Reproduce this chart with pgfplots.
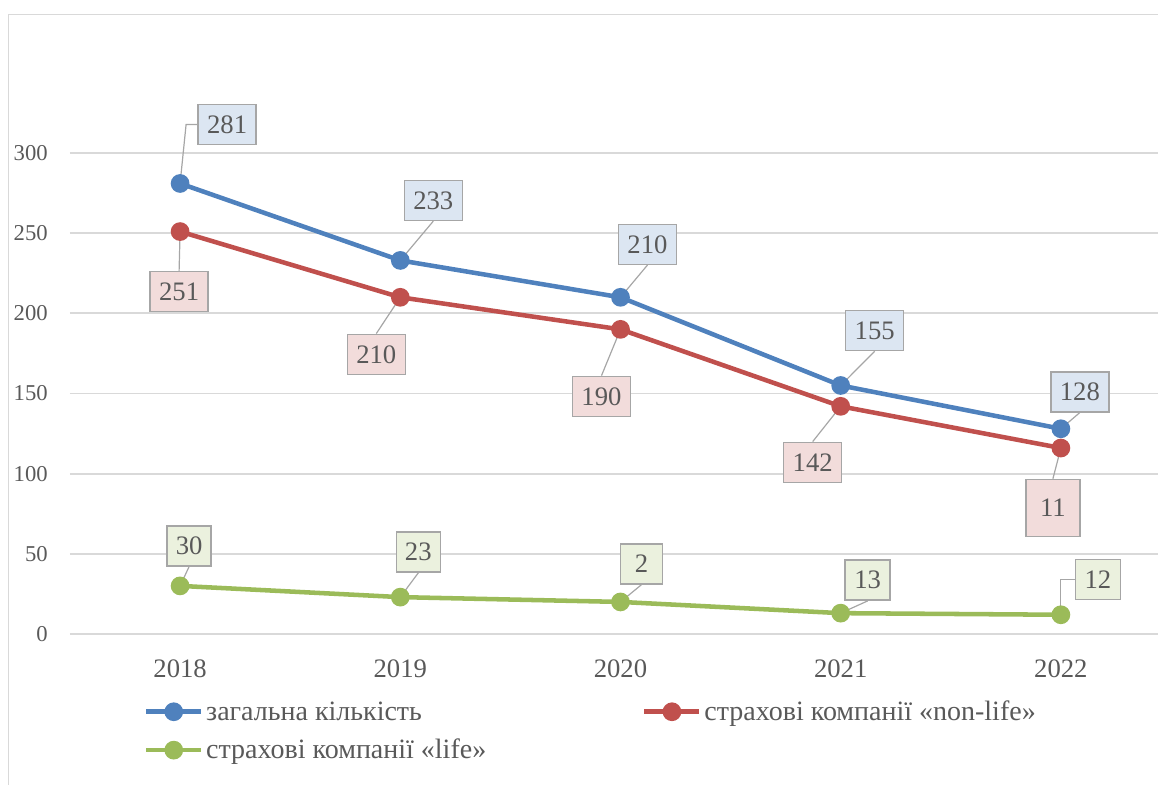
\documentclass[border=0pt]{standalone}
\usepackage{fontspec}
\setmainfont{Liberation Serif}
\usepackage{pgfplots}
\pgfplotsset{compat=1.18}
\definecolor{cblue}{HTML}{4F81BD}
\definecolor{cred}{HTML}{C0504D}
\definecolor{cgreen}{HTML}{9BBB59}
\definecolor{fblue}{HTML}{DCE6F2}
\definecolor{fred}{HTML}{F2DCDB}
\definecolor{fgreen}{HTML}{EBF1DE}
\definecolor{bord}{HTML}{A6A6A6}
\definecolor{txt}{HTML}{595959}
\definecolor{gridc}{HTML}{D9D9D9}
\tikzset{lblbox/.style={draw=bord, line width=1.1pt, text=txt, inner sep=0pt,
  font=\fontsize{20}{24}\selectfont, minimum height=30pt, anchor=center}}
% x, y, dx(px), dy(px), text, fill, name, min width(px)
\newcommand\lbl[8]{%
  \node[lblbox, fill=#6, minimum width={#8*0.75pt}, xshift={#3*0.75pt}, yshift={#4*0.75pt}] (#7) at (axis cs:#1,#2) {#5};}
\begin{document}
\begin{tikzpicture}
\useasboundingbox ({-70*0.75pt},{-151*0.75pt}) rectangle ({1088*0.75pt},{634*0.75pt});
\draw[gridc, line width=1.3pt] ({-61.5*0.75pt},{-170*0.75pt}) -- ({-61.5*0.75pt},{619.5*0.75pt}) -- ({1110*0.75pt},{619.5*0.75pt});
\begin{axis}[
  at={(0,0)}, anchor=south west, scale only axis,
  width=825.75pt, height=360.75pt,
  xmin=-0.5, xmax=4.5, ymin=0, ymax=300,
  clip=false,
  axis line style={draw=none},
  major tick length=0pt,
  ymajorgrids, grid style={gridc, line width=1.3pt},
  ytick={0,50,...,300},
  xtick={0,1,2,3,4},
  xticklabels={2018,2019,2020,2021,2022},
  /pgf/number format/assume math mode=true,
  yticklabel style={font=\fontsize{17}{20}\selectfont, text=txt, anchor=east, inner sep=0pt, xshift=-16.5pt},
  xticklabel style={font=\fontsize{20}{24}\selectfont, text=txt, anchor=north, inner sep=0pt, yshift=-19.5pt},
  legend style={at={(0.067,-0.133)}, anchor=north west, draw=none, fill=none, inner sep=0pt,
    font=\fontsize{21}{24}\selectfont, text=txt, legend columns=2,
    /tikz/every even column/.append style={column sep=115pt},
    row sep=8.5pt},
  legend cell align=left,
  legend image code/.code={\draw[mark repeat=2,mark phase=2,#1] plot coordinates {(0pt,0pt) (20.6pt,0pt) (41.25pt,0pt)};},
  every axis plot/.append style={line width=3.4pt, mark=*, mark size=5.3pt, mark options={solid}},
]
\addplot[cblue, mark options={fill=cblue, draw=cblue}] coordinates {(0,281) (1,233) (2,210) (3,155) (4,128)};
\addlegendentry{загальна кількість}
\addplot[cred, mark options={fill=cred, draw=cred}] coordinates {(0,251) (1,210) (2,190) (3,142) (4,116)};
\addlegendentry{страхові компанії «non-life»}
\addplot[cgreen, mark options={fill=cgreen, draw=cgreen}] coordinates {(0,30) (1,23) (2,20) (3,13) (4,12)};
\addlegendentry{страхові компанії «life»}

% blue labels
\lbl{0}{281}{47}{59}{281}{fblue}{b0}{58}
\lbl{1}{233}{33}{60}{233}{fblue}{b1}{58}
\lbl{2}{210}{27}{53}{210}{fblue}{b2}{58}
\lbl{3}{155}{34}{55}{155}{fblue}{b3}{58}
\lbl{4}{128}{19}{37}{128}{fblue}{b4}{58}
% red labels
\lbl{0}{251}{-1}{-60}{251}{fred}{r0}{58}
\node[lblbox, fill=fred, minimum width={54*0.75pt}, minimum height={57*0.75pt}, xshift={-8*0.75pt}, yshift={-60*0.75pt}] (r4) at (axis cs:4,116) {11};
\lbl{1}{210}{-24}{-57}{210}{fred}{r1}{58}
\lbl{2}{190}{-19}{-67}{190}{fred}{r2}{58}
\lbl{3}{142}{-28}{-56}{142}{fred}{r3}{58}
% green labels
\lbl{0}{30}{9}{40}{30}{fgreen}{g0}{44}
\lbl{1}{23}{18}{45}{23}{fgreen}{g1}{44}
\lbl{2}{20}{21}{38}{2}{fgreen}{g2}{42}
\lbl{3}{13}{27}{33}{13}{fgreen}{g3}{45}
\lbl{4}{12}{37}{35}{12}{fgreen}{g4}{45}

% leader lines
\draw[bord, line width=0.9pt] (axis cs:0,281) -- ([xshift={6*0.75pt}]b0.west -| {axis cs:0,281}) -- (b0.west);
\draw[bord, line width=0.9pt] (axis cs:1,233) -- (b1.south);
\draw[bord, line width=0.9pt] (axis cs:2,210) -- (b2.south);
\draw[bord, line width=0.9pt] (axis cs:3,155) -- (b3.south);
\draw[bord, line width=0.9pt] (axis cs:4,128) -- (b4.south);
\draw[bord, line width=0.9pt] (axis cs:0,251) -- (r0.north);
\draw[bord, line width=0.9pt] (axis cs:1,210) -- (r1.north);
\draw[bord, line width=0.9pt] (axis cs:2,190) -- (r2.north);
\draw[bord, line width=0.9pt] (axis cs:3,142) -- (r3.north);
\draw[bord, line width=0.9pt] (axis cs:4,116) -- (r4.north);
\draw[bord, line width=0.9pt] (axis cs:0,30) -- (g0.south);
\draw[bord, line width=0.9pt] (axis cs:1,23) -- (g1.south);
\draw[bord, line width=0.9pt] (axis cs:2,20) -- (g2.south);
\draw[bord, line width=0.9pt] (axis cs:3,13) -- (g3.south);
\draw[bord, line width=0.9pt] (axis cs:4,12) |- (g4.west);
\end{axis}
\end{tikzpicture}
\end{document}
